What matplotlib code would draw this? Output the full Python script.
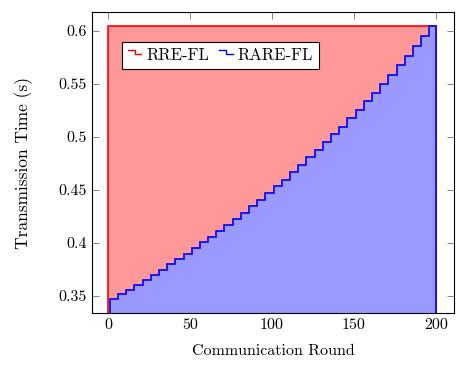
import matplotlib
matplotlib.use("Agg")
import matplotlib.pyplot as plt
from matplotlib.lines import Line2D
from matplotlib.legend_handler import HandlerBase

plt.rcParams['font.family'] = ['cmr10', 'DejaVu Serif']
plt.rcParams['mathtext.fontset'] = 'cm'
plt.rcParams['axes.formatter.use_mathtext'] = True

# RRE-FL: constant transmission time over all rounds
rre_edges = [0, 200]
rre_time = [0.605]

# RARE-FL: step values, each held for 5 rounds
rare_edges = [1, 6, 11, 16, 21, 26, 31, 36, 41, 46,
              51, 56, 61, 66, 71, 76, 81, 86, 91, 96,
              101, 106, 111, 116, 121, 126, 131, 136, 141, 146,
              151, 156, 161, 166, 171, 176, 181, 186, 191, 196, 200]
rare_time = [0.3465, 0.3516, 0.3557, 0.3604, 0.3651, 0.3698, 0.3745, 0.3799, 0.3846, 0.3893,
             0.3946, 0.4003, 0.4054, 0.4107, 0.4163, 0.4224, 0.4280, 0.4342, 0.4406, 0.4469,
             0.4531, 0.4594, 0.4663, 0.4736, 0.4805, 0.4877, 0.4949, 0.5025, 0.5097, 0.5176,
             0.5255, 0.5342, 0.5418, 0.5500, 0.5585, 0.5679, 0.5767, 0.5861, 0.5956, 0.6050]

xticks = [0, 50, 100, 150, 200]
yticks = [0.35, 0.4, 0.45, 0.5, 0.55, 0.6]
ytick_labels = ["0.35", "0.4", "0.45", "0.5", "0.55", "0.6"]

ymin, ymax = 0.3335, 0.618


class StepHandler(HandlerBase):
    # small step glyph like pgfplots const plot legend image
    def create_artists(self, legend, orig_handle, xdescent, ydescent,
                       width, height, fontsize, trans):
        x0 = -xdescent
        y0 = -ydescent
        xs = [x0, x0 + width * 0.5, x0 + width * 0.5, x0 + width]
        ys = [y0 + height * 0.85, y0 + height * 0.85, y0 + height * 0.5, y0 + height * 0.5]
        ln = Line2D(xs, ys, color=orig_handle.get_color(), lw=1.0, transform=trans)
        return [ln]


fig = plt.figure(figsize=(4.71, 3.71), dpi=100)
ax = fig.add_axes([0.1947, 0.1563, 0.7692, 0.8114])

ax.stairs(rre_time, rre_edges, baseline=ymin, fill=True,
          facecolor='#ff9999', edgecolor='red', lw=1.2, zorder=2)
ax.stairs(rare_time, rare_edges, baseline=ymin, fill=True,
          facecolor='#9999ff', edgecolor='blue', lw=1.2, zorder=3)

ax.set_xlim(-10, 211)
ax.set_ylim(ymin, ymax)
ax.set_xticks(xticks)
ax.set_xticklabels([str(t) for t in xticks])
ax.set_yticks(yticks)
ax.set_yticklabels(ytick_labels)
ax.tick_params(direction='in', length=5, width=0.6, color='0.45',
               top=True, right=True, labelsize=11.5, zorder=5)
for s in ax.spines.values():
    s.set_linewidth(0.8)
    s.set_zorder(6)

ax.set_xlabel("Communication Round", fontsize=11.5, labelpad=9)
ax.set_ylabel("Transmission Time (s)", fontsize=12.5, labelpad=18)

h1 = Line2D([], [], color='red')
h2 = Line2D([], [], color='blue')
leg = ax.legend([h1, h2], ["RRE-FL", "RARE-FL"], ncol=2, loc='upper left',
                bbox_to_anchor=(0.084, 0.90), borderaxespad=0, fontsize=12,
                handler_map={Line2D: StepHandler()}, handlelength=0.8,
                handletextpad=0.3, columnspacing=0.6, fancybox=False,
                framealpha=1, edgecolor='black', borderpad=0.35)
leg.get_frame().set_linewidth(0.8)
leg.set_zorder(10)

fig.savefig("out.png", dpi=100)
